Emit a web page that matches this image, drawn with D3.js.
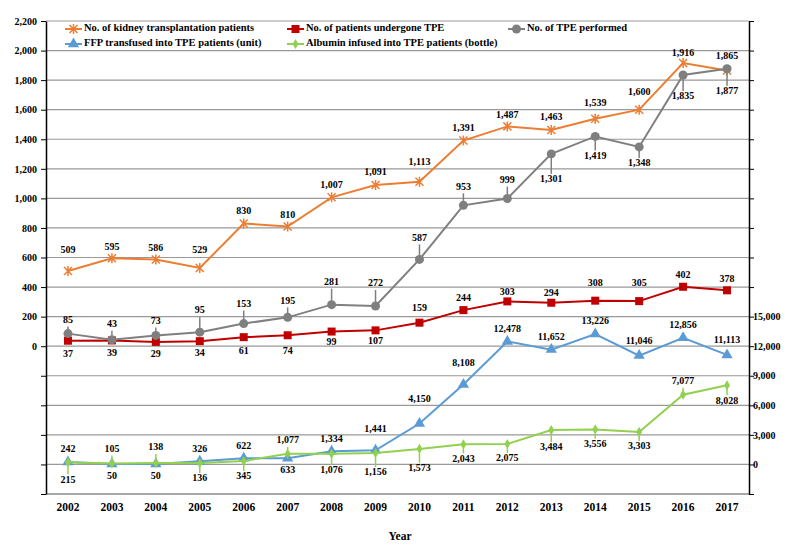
<!DOCTYPE html>
<html>
<head>
<meta charset="utf-8">
<script src="https://cdn.jsdelivr.net/npm/d3@7"></script>
<style>
  body { margin: 0; background: #fff; }
  text { font-family: "Liberation Serif", "Times New Roman", serif; font-weight: bold; }
</style>
</head>
<body>
<script>
// values
const years = ["2002","2003","2004","2005","2006","2007","2008","2009","2010","2011","2012","2013","2014","2015","2016","2017"];
const kidneyPatients = [509, 595, 586, 529, 830, 810, 1007, 1091, 1113, 1391, 1487, 1463, 1539, 1600, 1916, 1865];
const tpePatients = [37, 39, 29, 34, 61, 74, 99, 107, 159, 244, 303, 294, 308, 305, 402, 378];
const tpePerformed = [85, 43, 73, 95, 153, 195, 281, 272, 587, 953, 999, 1301, 1419, 1348, 1835, 1877];
const ffpUnits = [242, 50, 50, 326, 622, 633, 1334, 1441, 4150, 8108, 12478, 11652, 13226, 11046, 12856, 11113];
const albuminBottles = [215, 105, 138, 136, 345, 1077, 1076, 1156, 1573, 2043, 2075, 3484, 3556, 3303, 7077, 8028];
const seriesNames = [
    "No. of kidney transplantation patients",
    "No. of patients undergone TPE",
    "No. of TPE performed",
    "FFP transfused into TPE patients (unit)",
    "Albumin infused into TPE patients (bottle)"
];

// label offsets (pixels from the point), layout only
const kidneyDy = [-20,-11,-11,-17,-12,-11,-12,-12,-19,-12,-11,-12,-15,-17,-9,-14];
const tpePatientsDy = [14,13,13,13,15,16,11,11,-14,-11,-9,-9,-17,-17,-11,-11];
const tpePerformedDy = [-13,-15,-14,-21,-19,-16,-22,-22,-21,-18,-18,26,20,17,22,23];
const ffpDy = [-12,13,13,-12,-12,13,-12,-21,-24,-21,-12,-12,-12,-14,-12,-14];
const albuminDy = [18,-14,-15,16,16,-13,17,20,20,15,15,18,15,15,-13,16];

const width = 800, height = 552;
const plotLeft = 46, plotRight = 749, plotTop = 21, plotBottom = 494;

const svg = d3.select("body").append("svg")
    .attr("width", width)
    .attr("height", height);

const x = d3.scaleBand().domain(years).range([plotLeft, plotRight]).padding(0);
const cx = d => x(d) + x.bandwidth() / 2;
const yL = d3.scaleLinear().domain([-1000, 2200]).range([plotBottom, plotTop]);
const yR = d3.scaleLinear().domain([-3000, 45000]).range([plotBottom, plotTop]);
const fmt = d3.format(",");

// gridlines
const gridVals = d3.range(-1000, 2201, 200);
svg.append("g").selectAll("line").data(gridVals).join("line")
    .attr("x1", plotLeft).attr("x2", plotRight)
    .attr("y1", d => yL(d)).attr("y2", d => yL(d))
    .attr("stroke", d => d === -1000 ? "#555" : "#999")
    .attr("stroke-width", 1.2);

// axes
const leftAxis = svg.append("g")
    .attr("transform", `translate(${plotLeft},0)`)
    .call(d3.axisLeft(yL).tickValues(gridVals).tickSize(5).tickSizeOuter(0)
        .tickFormat(d => d >= 0 ? fmt(d) : ""));
const rightAxis = svg.append("g")
    .attr("transform", `translate(${plotRight},0)`)
    .call(d3.axisRight(yR).tickValues(d3.range(-3000, 45001, 3000)).tickSize(5).tickSizeOuter(0)
        .tickFormat(d => d >= 0 && d <= 15000 ? fmt(d) : ""));
[leftAxis, rightAxis].forEach(g => {
    g.select(".domain").attr("stroke", "#000").attr("stroke-width", 1.5);
    g.selectAll(".tick line").attr("stroke", "#000");
    g.selectAll(".tick text")
        .attr("font-size", "10px")
        .attr("font-family", "Liberation Serif, serif")
        .attr("font-weight", "bold")
        .attr("fill", "#000");
});
leftAxis.selectAll(".tick text").attr("x", -9);
rightAxis.selectAll(".tick text").attr("x", 4);

// year labels
svg.append("g").selectAll("text").data(years).join("text")
    .attr("x", d => cx(d))
    .attr("y", 508)
    .attr("text-anchor", "middle")
    .attr("dominant-baseline", "middle")
    .attr("font-size", "11.5px")
    .text(d => d);

svg.append("text")
    .attr("x", 400).attr("y", 537)
    .attr("text-anchor", "middle")
    .attr("dominant-baseline", "middle")
    .attr("font-size", "11.5px")
    .text("Year");

// marker drawers
function drawMarker(g, kind, color) {
    if (kind === "star") {
        g.append("path")
            .attr("d", "M-4,-4L4,4M-4,4L4,-4M0,-5L0,5")
            .attr("stroke", color).attr("stroke-width", 1.5).attr("fill", "none");
    } else if (kind === "square") {
        g.append("rect").attr("x", -4).attr("y", -4).attr("width", 8).attr("height", 8).attr("fill", color);
    } else if (kind === "circle") {
        g.append("circle").attr("r", 4.5).attr("fill", color);
    } else if (kind === "triangle") {
        g.append("path").attr("d", d3.symbol(d3.symbolTriangle, 55)()).attr("fill", color);
    } else if (kind === "diamond") {
        g.append("path").attr("d", d3.symbol(d3.symbolDiamond, 30)()).attr("fill", color);
    }
}

const series = [
    { values: kidneyPatients, y: yL, color: "#ED7D31", marker: "star", dy: kidneyDy, leader: false },
    { values: tpePatients, y: yL, color: "#C00000", marker: "square", dy: tpePatientsDy, leader: false },
    { values: tpePerformed, y: yL, color: "#7F7F7F", marker: "circle", dy: tpePerformedDy, leader: true },
    { values: ffpUnits, y: yR, color: "#5B9BD5", marker: "triangle", dy: ffpDy, leader: false },
    { values: albuminBottles, y: yR, color: "#92D050", marker: "diamond", dy: albuminDy, leader: true }
];

// lines, markers, labels
series.forEach(s => {
    const pts = s.values.map((v, i) => [cx(years[i]), s.y(v)]);
    svg.append("path")
        .attr("d", d3.line()(pts))
        .attr("fill", "none")
        .attr("stroke", s.color)
        .attr("stroke-width", 2);

    pts.forEach((p, i) => {
        const dy = s.dy[i];
        const sign = dy < 0 ? -1 : 1;
        if (s.leader) {
            const y1 = p[1] + sign * 4;
            const y2 = p[1] + dy - sign * 6;
            if ((y2 - y1) * sign > 1) {
                svg.append("line")
                    .attr("x1", p[0]).attr("x2", p[0])
                    .attr("y1", y1).attr("y2", y2)
                    .attr("stroke", s.color).attr("stroke-width", 1.5);
            }
        }
        const g = svg.append("g").attr("transform", `translate(${p[0]},${p[1]})`);
        drawMarker(g, s.marker, s.color);
    });
});

series.forEach(s => {
    s.values.forEach((v, i) => {
        svg.append("text")
            .attr("x", cx(years[i]))
            .attr("y", s.y(v) + s.dy[i])
            .attr("text-anchor", "middle")
            .attr("dominant-baseline", "middle")
            .attr("font-size", "10px")
            .text(fmt(v));
    });
});

// legend
const legendPos = [[65, 29], [287, 29], [508, 29], [65, 44], [287, 44]];
series.forEach((s, i) => {
    const [lx, ly] = legendPos[i];
    svg.append("line")
        .attr("x1", lx).attr("x2", lx + 17)
        .attr("y1", ly).attr("y2", ly)
        .attr("stroke", s.color).attr("stroke-width", 2);
    const g = svg.append("g").attr("transform", `translate(${lx + 8.5},${ly})`);
    drawMarker(g, s.marker, s.color);
    svg.append("text")
        .attr("x", lx + 19)
        .attr("y", ly)
        .attr("dominant-baseline", "middle")
        .attr("font-size", "10.5px")
        .text(seriesNames[i]);
});
</script>
</body>
</html>
